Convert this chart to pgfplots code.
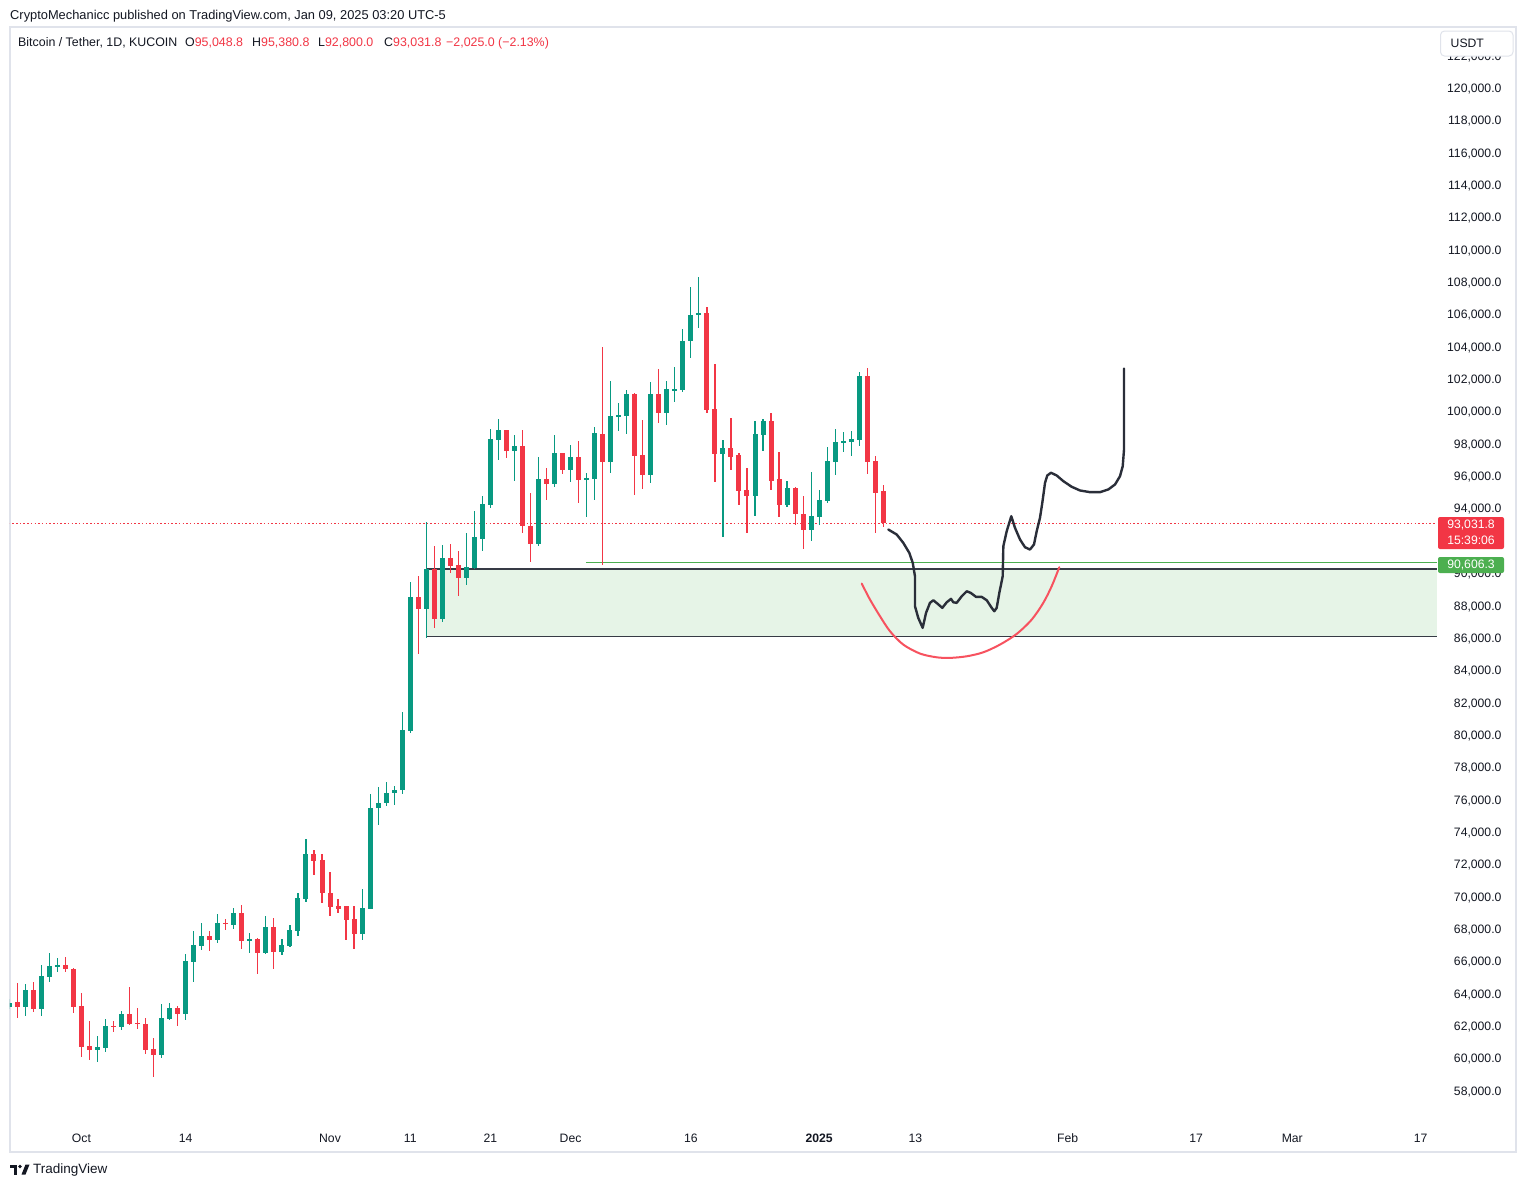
\documentclass[border=0pt]{standalone}
\usepackage{pgfplots}
\pgfplotsset{compat=1.18}
\usepackage{pgfplotstable}
\usepackage{fontspec}
\setmainfont{Liberation Sans}
\definecolor{upc}{HTML}{089981}
\definecolor{dnc}{HTML}{F23645}
\definecolor{tvtext}{HTML}{131722}
\definecolor{tvborder}{HTML}{E0E3EB}
\definecolor{zonefill}{HTML}{E6F4E7}
\definecolor{zoneline}{HTML}{363A45}
\definecolor{lvlgreen}{HTML}{4CAF50}
\definecolor{pen}{HTML}{2A2E39}
\definecolor{arcc}{HTML}{F7525F}

% day index: 0 = 1 Oct 2024
\pgfplotstableread{
d o h l c
-9 63150 63600 63000 63400
-7 63156 64560 62598 64188
-5 63032 65735 62598 65054
-4 65013 66458 64704 65673
-3 65631 66147 65322 65735
2 60475 61341 59733 60640
3 60620 62393 60351 61960
5 61918 62888 61713 62702
10 60166 63322 60000 62474
11 62412 63402 62350 63074
13 62722 66416 62350 65983
14 65941 67840 64704 66974
15 66931 68335 66683 67531
17 67303 68892 67118 68335
19 68231 69262 67983 68953
21 67241 67716 66497 67303
23 66497 68768 66435 68087
25 66559 67344 66374 66974
26 66931 68211 66869 67901
27 67860 70190 67551 69900
28 69838 73532 69653 72604
35 67675 70438 67282 69262
36 69220 76317 69200 75451
37 75409 76750 74357 75760
38 75720 77059 75586 76378
39 76337 76812 75647 76564
40 76523 81391 76274 80277
41 80215 89435 80092 88507
43 87764 93148 85970 90240
45 87145 91725 86960 90920
48 89682 92467 89249 90363
49 90301 93829 90240 92158
50 92096 94695 91354 94200
51 94138 98841 93952 98222
52 98160 99460 96922 98779
54 97479 98470 95623 97788
57 91787 97108 91663 95747
59 95437 98470 95252 97355
61 96324 97850 95582 97108
63 95747 96159 93416 95809
64 95768 98965 94469 98594
66 96818 101812 96138 99646
67 99605 100450 98717 99708
68 99667 101255 98532 101007
71 96015 101750 95540 101007
73 99852 101812 99110 101317
74 101276 102673 100512 101338
75 101276 105068 101152 104325
76 104284 107667 103232 105934
77 105893 108244 105109 106017
80 97293 98160 92220 97664
84 94715 99336 93477 98532
85 98491 99460 97500 99336
88 94159 95623 94035 95190
91 92611 96180 91931 93477
92 93415 95087 92962 94448
93 94406 97726 94283 96859
94 96818 98841 96015 98037
95 98057 98655 97438 98119
96 98057 98717 97190 98222
97 98181 102365 97809 102118
}\upT

\pgfplotstableread{
d o h l c
-8 63427 64603 62474 63156
-6 64188 64684 62845 63032
-2 65735 66251 65322 65467
-1 65487 65550 62783 63156
0 63198 63981 60061 60680
1 60722 62270 59856 60475
4 61980 62270 61589 61918
6 62702 64394 62022 62084
7 62167 63094 61795 62084
8 62084 62474 60248 60475
9 60537 61238 58824 60166
12 63074 63198 61980 62722
16 67531 67840 66621 67303
18 68335 68582 67920 68293
20 68953 69448 66745 67241
22 67344 67400 65197 66497
24 68087 68644 65507 66559
29 72604 72852 71323 72189
30 72232 72604 69591 70149
31 70190 71509 68727 69343
32 69386 69819 68915 69220
33 69386 69400 67282 68520
34 68582 69386 66745 67675
42 88507 89806 84980 87764
44 90240 91663 86589 87145
46 90920 91787 89992 90425
47 90487 91354 88569 89682
53 98779 98800 97046 97479
55 97788 98779 92467 92839
56 92901 94881 90672 91787
58 95747 96427 94448 95437
60 97355 97400 96077 96324
62 97108 98099 94283 95701
65 98532 103960 90487 96818
69 101007 101069 94758 97190
70 97231 99398 95129 96015
72 101007 102550 99233 99852
78 106017 106388 99852 100058
79 100100 102859 95582 97293
81 97664 99522 96324 97128
82 97231 97355 94159 95025
83 95066 96427 92427 94715
86 99336 99831 95087 95664
87 95747 97417 93415 94159
89 95190 95252 92929 93601
90 93642 94695 91436 92611
98 102118 102612 96077 96838
99 96859 97169 92427 94901
100 95048.8 95380.8 92800 93031.8
}\dnT

\pgfplotsset{
  candle/.style n args={2}{draw=none, mark=none, forget plot,
    error bars/.cd, y dir=both, y explicit, error mark=none,
    error bar style={draw=#1, line width=#2, line cap=butt}},
}

\begin{document}
\begin{tikzpicture}
\fill[white] (0pt,0pt) rectangle (1527pt,-1187pt);
\path[use as bounding box] (0pt,0pt) rectangle (1527pt,-1187pt);
\draw[tvborder, line width=2pt] (10pt,-27pt) rectangle (1516pt,-1152pt);

\begin{axis}[
  at={(10pt,-1125pt)}, anchor=south west,
  width=1427pt, height=1098pt, scale only axis,
  xmin=-8.911, xmax=169.05, ymin=55834, ymax=123717,
  axis line style={draw=none},
  major tick length=0pt, tick style={draw=none},
  scaled y ticks=false,
  xtick={0,13,31,41,51,61,76,92,104,123,139,151,167},
  xticklabels={Oct,14,Nov,11,21,Dec,16,\textbf{2025},13,Feb,17,Mar,17},
  ytick={58000,60000,62000,64000,66000,68000,70000,72000,74000,76000,78000,80000,82000,84000,86000,88000,90000,94000,96000,98000,100000,102000,104000,106000,108000,110000,112000,114000,116000,118000,120000,122000},
  yticklabel pos=right,
  tick label style={font=\fontsize{12.2}{14}\selectfont, text=tvtext},
  xticklabel style={anchor=base, yshift=-17.3pt},
  yticklabel style={anchor=east, xshift=68pt, yshift=-1.8pt,
    /pgf/number format/fixed, /pgf/number format/fixed zerofill,
    /pgf/number format/precision=1, /pgf/number format/1000 sep={,},
    /pgf/number format/assume math mode=true},
]
% support/resistance zone
\addplot[fill=zonefill, draw=zoneline, line width=1.3pt, mark=none] coordinates {(43.01,86049) (175,86049) (175,90219) (43.01,90219) (43.01,86049)};
% last price dotted line
\addplot[draw=dnc, line width=1.2pt, dash pattern=on 1.5pt off 2.2pt, mark=none] coordinates {(-10,93031.8) (175,93031.8)};
% level line
\addplot[draw=lvlgreen, line width=1.2pt, mark=none] coordinates {(62.92,90606.3) (175,90606.3)};

% up candles: wicks and bodies
\addplot[candle={upc}{1.2pt}]
  table[x=d, y expr={(\thisrow{h}+\thisrow{l})/2}, y error expr={(\thisrow{h}-\thisrow{l})/2}] {\upT};
\addplot[candle={upc}{5pt}]
  table[x=d, y expr={(\thisrow{o}+\thisrow{c})/2}, y error expr={max(abs(\thisrow{o}-\thisrow{c})/2,35)}] {\upT};
% down candles
\addplot[candle={dnc}{1.2pt}]
  table[x=d, y expr={(\thisrow{h}+\thisrow{l})/2}, y error expr={(\thisrow{h}-\thisrow{l})/2}] {\dnT};
\addplot[candle={dnc}{5pt}]
  table[x=d, y expr={(\thisrow{o}+\thisrow{c})/2}, y error expr={max(abs(\thisrow{o}-\thisrow{c})/2,35)}] {\dnT};

% hand-drawn projection
\addplot[draw=pen, line width=2.4pt, line join=round, line cap=round, mark=none] coordinates {
(100.62,92653) (101.67,92343) (102.49,91830) (103.24,91211) (103.67,90592)
(103.95,89763) (103.95,87907) (104.36,87189) (104.91,86570) (105.33,87498)
(105.82,88117) (106.24,88278) (106.74,88074) (107.36,87808) (107.91,88154)
(108.44,88365) (108.73,88154) (109.15,88117) (109.78,88525) (110.40,88835)
(110.90,88736) (111.56,88488) (112.27,88488) (112.90,88278) (113.52,87808)
(113.84,87598) (114.14,87808) (114.47,88736) (114.89,89763) (114.97,91619)
(115.39,92548) (115.96,93476) (116.42,92758) (117.05,92034) (117.67,91558)
(118.29,91415) (118.79,91725) (119.13,92548) (119.54,93377) (119.83,94305)
(120.17,95543) (120.45,95994) (120.91,96161) (121.62,95994) (122.45,95642)
(123.49,95295) (124.53,95066) (125.78,94961) (127.02,94961) (128.06,95128)
(128.90,95437) (129.52,95951) (129.86,96570) (130.02,97603) (130.02,102597)};
% red arc
\addplot[draw=arcc, line width=2pt, smooth, line cap=round, mark=none] coordinates {
(97.31,89311) (98.34,88321) (99.59,87288) (100.84,86360) (102.49,85537)
(104.58,84980) (106.66,84751) (108.32,84714) (110.40,84813) (112.47,85061)
(114.55,85537) (116.64,86199) (118.51,87084) (119.95,88117) (121.00,89146)
(121.95,90320)};
\end{axis}

% price scale labels
\fill[dnc, rounded corners=2pt] (1438pt,-517pt) rectangle (1504pt,-549pt);
\node[text=white, font=\fontsize{12.2}{14}\selectfont, inner sep=0] at (1471pt,-525.5pt) {93,031.8};
\node[text=white, font=\fontsize{12.2}{14}\selectfont, inner sep=0] at (1471pt,-540.5pt) {15:39:06};
\fill[lvlgreen, rounded corners=2pt] (1438pt,-557pt) rectangle (1504pt,-573pt);
\node[text=white, font=\fontsize{12.2}{14}\selectfont, inner sep=0] at (1471pt,-565pt) {90,606.3};

% currency button
\draw[tvborder, fill=white, rounded corners=4pt, line width=1pt] (1440.5pt,-31pt) rectangle (1513pt,-56pt);
\node[anchor=west, inner sep=0, text=tvtext, font=\fontsize{12.2}{14}\selectfont] at (1450.5pt,-43.5pt) {USDT};

% header
\node[anchor=base west, inner sep=0, text=tvtext, font=\fontsize{12.85}{15}\selectfont] at (10pt,-19.5pt)
  {CryptoMechanicc published on TradingView.com, Jan 09, 2025 03:20 UTC-5};
\begin{scope}[every node/.style={anchor=base west, inner sep=0, text=tvtext, font=\fontsize{12.4}{14}\selectfont}]
\node at (18pt,-46.5pt) {Bitcoin / Tether, 1D, KUCOIN};
\node at (185pt,-46.5pt) {O\textcolor{dnc}{95,048.8}};
\node at (252pt,-46.5pt) {H\textcolor{dnc}{95,380.8}};
\node at (318pt,-46.5pt) {L\textcolor{dnc}{92,800.0}};
\node at (384pt,-46.5pt) {C\textcolor{dnc}{93,031.8}};
\node at (446pt,-46.5pt) {\textcolor{dnc}{−2,025.0 (−2.13\%)}};
\end{scope}

% footer logo
\fill[tvtext] (10pt,-1164.5pt) rectangle (17pt,-1168pt);
\fill[tvtext] (13.5pt,-1164.5pt) rectangle (17pt,-1174.5pt);
\fill[tvtext] (20pt,-1166.5pt) circle (1.8pt);
\fill[tvtext] (21.5pt,-1174.5pt) -- (25.5pt,-1164.5pt) -- (29.5pt,-1164.5pt) -- (25.5pt,-1174.5pt) -- cycle;
\node[anchor=west, inner sep=0, text=tvtext, font=\fontsize{13.5}{16}\selectfont] at (33pt,-1169.5pt) {TradingView};
\end{tikzpicture}
\end{document}
